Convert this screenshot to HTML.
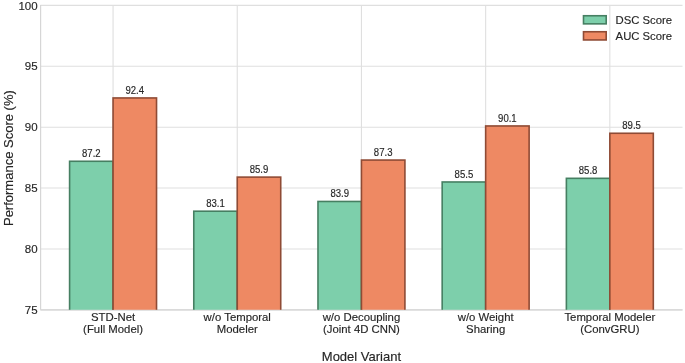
<!DOCTYPE html>
<html><head><meta charset="utf-8"><style>
html,body{margin:0;padding:0;background:#fff;}
body{width:685px;height:363px;overflow:hidden;}
div.w{will-change:transform;}
svg{display:block;font-family:"Liberation Sans",sans-serif;}
text{stroke:#262626;stroke-width:0.15px;}
</style></head><body><div class="w">
<svg width="685" height="363" viewBox="0 0 685 363">
<rect width="685" height="363" fill="#fff"/>
<line x1="40.4" x2="682.5" y1="309.85" y2="309.85" stroke="#dfdfdf" stroke-width="1.1"/>
<line x1="40.4" x2="682.5" y1="248.96" y2="248.96" stroke="#dfdfdf" stroke-width="1.1"/>
<line x1="40.4" x2="682.5" y1="188.07" y2="188.07" stroke="#dfdfdf" stroke-width="1.1"/>
<line x1="40.4" x2="682.5" y1="127.18" y2="127.18" stroke="#dfdfdf" stroke-width="1.1"/>
<line x1="40.4" x2="682.5" y1="66.29" y2="66.29" stroke="#dfdfdf" stroke-width="1.1"/>
<line x1="40.4" x2="682.5" y1="5.40" y2="5.40" stroke="#dfdfdf" stroke-width="1.1"/>
<line x1="113.06" x2="113.06" y1="5.4" y2="309.85" stroke="#dfdfdf" stroke-width="1.1"/>
<line x1="237.25" x2="237.25" y1="5.4" y2="309.85" stroke="#dfdfdf" stroke-width="1.1"/>
<line x1="361.45" x2="361.45" y1="5.4" y2="309.85" stroke="#dfdfdf" stroke-width="1.1"/>
<line x1="485.65" x2="485.65" y1="5.4" y2="309.85" stroke="#dfdfdf" stroke-width="1.1"/>
<line x1="609.84" x2="609.84" y1="5.4" y2="309.85" stroke="#dfdfdf" stroke-width="1.1"/>
<line x1="40.6" x2="40.6" y1="4.9" y2="309.85" stroke="#d6d6d6" stroke-width="1.2"/>
<line x1="40.4" x2="682.5" y1="309.85" y2="309.85" stroke="#d6d6d6" stroke-width="1.3"/>
<rect x="69.59" y="161.28" width="43.47" height="151.57" fill="#7dcfab" stroke="#467f62" stroke-width="1.6" clip-path="url(#ax)"/>
<text transform="translate(91.32 156.88) scale(0.93 1)" font-size="10.3" text-anchor="middle" fill="#262626">87.2</text>
<rect x="113.06" y="97.95" width="43.47" height="214.90" fill="#ee8963" stroke="#8f4b35" stroke-width="1.6" clip-path="url(#ax)"/>
<text transform="translate(134.79 93.55) scale(0.93 1)" font-size="10.3" text-anchor="middle" fill="#262626">92.4</text>
<rect x="193.78" y="211.21" width="43.47" height="101.64" fill="#7dcfab" stroke="#467f62" stroke-width="1.6" clip-path="url(#ax)"/>
<text transform="translate(215.52 206.81) scale(0.93 1)" font-size="10.3" text-anchor="middle" fill="#262626">83.1</text>
<rect x="237.25" y="177.11" width="43.47" height="135.74" fill="#ee8963" stroke="#8f4b35" stroke-width="1.6" clip-path="url(#ax)"/>
<text transform="translate(258.99 172.71) scale(0.93 1)" font-size="10.3" text-anchor="middle" fill="#262626">85.9</text>
<rect x="317.98" y="201.47" width="43.47" height="111.38" fill="#7dcfab" stroke="#467f62" stroke-width="1.6" clip-path="url(#ax)"/>
<text transform="translate(339.72 197.07) scale(0.93 1)" font-size="10.3" text-anchor="middle" fill="#262626">83.9</text>
<rect x="361.45" y="160.06" width="43.47" height="152.79" fill="#ee8963" stroke="#8f4b35" stroke-width="1.6" clip-path="url(#ax)"/>
<text transform="translate(383.18 155.66) scale(0.93 1)" font-size="10.3" text-anchor="middle" fill="#262626">87.3</text>
<rect x="442.18" y="181.98" width="43.47" height="130.87" fill="#7dcfab" stroke="#467f62" stroke-width="1.6" clip-path="url(#ax)"/>
<text transform="translate(463.91 177.58) scale(0.93 1)" font-size="10.3" text-anchor="middle" fill="#262626">85.5</text>
<rect x="485.65" y="125.96" width="43.47" height="186.89" fill="#ee8963" stroke="#8f4b35" stroke-width="1.6" clip-path="url(#ax)"/>
<text transform="translate(507.38 121.56) scale(0.93 1)" font-size="10.3" text-anchor="middle" fill="#262626">90.1</text>
<rect x="566.38" y="178.33" width="43.47" height="134.52" fill="#7dcfab" stroke="#467f62" stroke-width="1.6" clip-path="url(#ax)"/>
<text transform="translate(588.11 173.93) scale(0.93 1)" font-size="10.3" text-anchor="middle" fill="#262626">85.8</text>
<rect x="609.84" y="133.27" width="43.47" height="179.58" fill="#ee8963" stroke="#8f4b35" stroke-width="1.6" clip-path="url(#ax)"/>
<text transform="translate(631.58 128.87) scale(0.93 1)" font-size="10.3" text-anchor="middle" fill="#262626">89.5</text>
<text x="37.6" y="313.97" font-size="11.5" text-anchor="end" fill="#262626">75</text>
<text x="37.6" y="253.08" font-size="11.5" text-anchor="end" fill="#262626">80</text>
<text x="37.6" y="192.19" font-size="11.5" text-anchor="end" fill="#262626">85</text>
<text x="37.6" y="131.30" font-size="11.5" text-anchor="end" fill="#262626">90</text>
<text x="37.6" y="70.41" font-size="11.5" text-anchor="end" fill="#262626">95</text>
<text x="37.6" y="9.52" font-size="11.5" text-anchor="end" fill="#262626">100</text>
<text x="113.06" y="321" font-size="11.35" text-anchor="middle" fill="#262626">STD-Net</text>
<text x="113.06" y="333.4" font-size="11.35" text-anchor="middle" fill="#262626">(Full Model)</text>
<text x="237.25" y="321" font-size="11.35" text-anchor="middle" fill="#262626">w/o Temporal</text>
<text x="237.25" y="333.4" font-size="11.35" text-anchor="middle" fill="#262626">Modeler</text>
<text x="361.45" y="321" font-size="11.35" text-anchor="middle" fill="#262626">w/o Decoupling</text>
<text x="361.45" y="333.4" font-size="11.35" text-anchor="middle" fill="#262626">(Joint 4D CNN)</text>
<text x="485.65" y="321" font-size="11.35" text-anchor="middle" fill="#262626">w/o Weight</text>
<text x="485.65" y="333.4" font-size="11.35" text-anchor="middle" fill="#262626">Sharing</text>
<text x="609.84" y="321" font-size="11.35" text-anchor="middle" fill="#262626">Temporal Modeler</text>
<text x="609.84" y="333.4" font-size="11.35" text-anchor="middle" fill="#262626">(ConvGRU)</text>
<text x="361.45" y="360.6" font-size="13.0" text-anchor="middle" fill="#262626">Model Variant</text>
<text transform="translate(12.9 158.12) rotate(-90)" x="0" y="0" font-size="13.0" text-anchor="middle" fill="#262626">Performance Score (%)</text>
<rect x="583.5" y="15.75" width="22.7" height="8.1" fill="#7dcfab" stroke="#467f62" stroke-width="1.6"/>
<rect x="583.5" y="31.75" width="22.7" height="8.2" fill="#ee8963" stroke="#8f4b35" stroke-width="1.6"/>
<text x="615.6" y="23.7" font-size="11.3" fill="#262626">DSC Score</text>
<text x="615.6" y="39.7" font-size="11.3" fill="#262626">AUC Score</text>
<defs><clipPath id="ax"><rect x="0" y="0" width="685" height="309.85"/></clipPath></defs>
</svg>
</div></body></html>
